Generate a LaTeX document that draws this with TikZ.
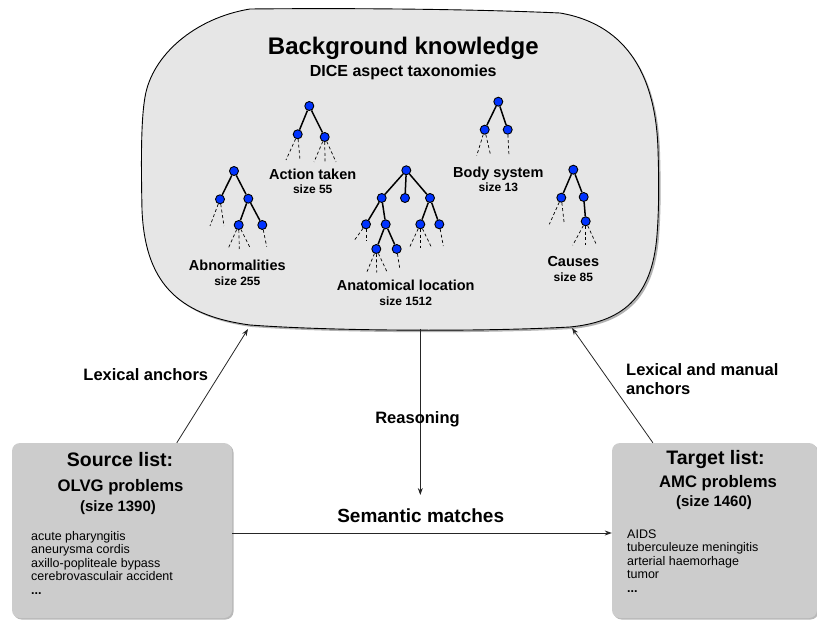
\documentclass[tikz,border=0pt]{standalone}
\usepackage{fontspec}
\setmainfont{Liberation Sans}
\usetikzlibrary{arrows.meta,shadows,positioning}

\definecolor{bkgray}{HTML}{E6E6E6}
\definecolor{boxgray}{HTML}{CCCCCC}
\definecolor{dotblue}{HTML}{0033FF}

\newcommand{\fsz}[1]{\fontsize{#1}{#1}\selectfont}
\newcommand{\stubs}[3]{\foreach \dx in {#2} \draw[stub] (#1) -- ++(\dx,#3);}

\tikzset{
  tn/.style={circle, draw, fill=dotblue, line width=0.9pt, minimum size=9pt, inner sep=0pt},
  branch/.style={line width=1.5pt},
  stub/.style={line width=0.7pt, dash pattern=on 3pt off 2.5pt},
  tname/.style={font=\bfseries\fsz{14.5}, inner sep=0pt, text height=9pt, text depth=3pt},
  tsize/.style={font=\bfseries\fsz{12}, inner sep=0pt, text height=9pt, text depth=3pt},
  listbox/.style={rectangle, rounded corners=8pt, fill=boxgray, minimum width=#1,
    minimum height=175pt, inner sep=0pt,
    drop shadow={shadow xshift=1.5pt, shadow yshift=-1.5pt, fill=black!55}},
  head/.style={font=\bfseries\fsz{19.5}, anchor=base, inner sep=0pt},
  sub/.style={font=\bfseries\fsz{16.7}, anchor=base, inner sep=0pt},
  subsize/.style={font=\bfseries\fsz{15}, anchor=base, inner sep=0pt},
  listtxt/.style={font={\fontsize{12.5}{13.5}\selectfont}, align=left, inner sep=0pt, anchor=north west},
  lbl/.style={font=\bfseries\fsz{16.5}, anchor=base, inner sep=0pt}
}

\begin{document}
\begin{tikzpicture}[x=1pt, y=-1pt, node distance=14.7pt,
    >={Stealth[length=7pt,width=5pt]},
    link/.style={->, line width=0.8pt, black!85}]
  \useasboundingbox (0,0) rectangle (817,620);

  % background knowledge cloud
  \path[fill=bkgray, draw, line width=0.9pt,
        drop shadow={shadow xshift=2pt, shadow yshift=-2pt, fill=black!60}]
    (250,9) .. controls (350,8) and (470,9) .. (560,13)
    .. controls (630,25) and (656,80) .. (658,150)
    .. controls (659,180) and (659,210) .. (657,235)
    .. controls (652,300) and (620,322) .. (570,327)
    .. controls (480,332) and (330,331) .. (250,325)
    .. controls (175,315) and (145,280) .. (142,210)
    .. controls (141,160) and (141,120) .. (145,97)
    .. controls (152,55) and (195,18) .. (250,9) -- cycle;
  \node[font=\bfseries\fsz{24}, anchor=base, inner sep=0pt] (bk) at (403.3,55) {Background knowledge};
  \node[font=\bfseries\fsz{16}, anchor=base, inner sep=0pt] (dice) at (403.3,76.7) {DICE aspect taxonomies};
  \coordinate (bk-left) at (248,329);
  \coordinate (bk-right) at (572,328);
  \coordinate (bk-bottom) at (420.3,329);

  % action taken
  \node[tn] (at0) at (309.3,106) {};
  \node[tn] (at1) at (297.7,134.3) {};
  \node[tn] (at2) at (324.7,137) {};
  \draw[branch] (at0) edge (at1) edge (at2);
  \stubs{at1}{-11.7,2.3}{25.7}
  \stubs{at2}{-10.7,0.3,11.3}{25}
  \node[tname] (atn) at (312.7,176.3) {Action taken};
  \node[tsize] (ats) [below of=atn] {size 55};

  % body system
  \node[tn] (bs0) at (498.3,101.7) {};
  \node[tn] (bs1) at (484.7,129.7) {};
  \node[tn] (bs2) at (507.7,129.7) {};
  \draw[branch] (bs0) edge (bs1) edge (bs2);
  \stubs{bs1}{-8,6}{26}
  \stubs{bs2}{1.3}{26}
  \node[tname] (bsn) at (498.3,174.3) {Body system};
  \node[tsize] (bss) [below of=bsn] {size 13};

  % abnormalities
  \node[tn] (ab0) at (234,171) {};
  \node[tn] (ab1) at (220,199.3) {};
  \node[tn] (ab2) at (248.3,198.7) {};
  \node[tn] (ab21) at (238.7,225) {};
  \node[tn] (ab22) at (262.3,225) {};
  \draw[branch] (ab0) edge (ab1) edge (ab2)
                (ab2) edge (ab21) edge (ab22);
  \stubs{ab1}{-10,4}{26.7}
  \stubs{ab21}{-10.7,0.6,12}{24}
  \stubs{ab22}{4.4}{21.7}
  \node[tname] (abn) at (237.3,267.7) {Abnormalities};
  \node[tsize] (abs) [below of=abn] {size 255};

  % anatomical location
  \node[tn] (an0) at (406.3,170.3) {};
  \node[tn] (an1) at (381.7,198) {};
  \node[tn] (an2) at (405,198) {};
  \node[tn] (an3) at (430,198) {};
  \node[tn] (an11) at (366,224.3) {};
  \node[tn] (an12) at (385.7,224.3) {};
  \node[tn] (an121) at (376.3,249) {};
  \node[tn] (an122) at (396.7,249) {};
  \node[tn] (an31) at (420.3,224.3) {};
  \node[tn] (an32) at (439.3,224.3) {};
  \draw[branch] (an0) edge (an1) edge (an2) edge (an3)
                (an1) edge (an11) edge (an12)
                (an12) edge (an121) edge (an122)
                (an3) edge (an31) edge (an32);
  \stubs{an11}{-12,0}{16.5}
  \stubs{an121}{-9.6,0.4,11}{23.5}
  \stubs{an122}{3.3}{21}
  \stubs{an31}{-11,0,11.4}{23.5}
  \stubs{an32}{4}{21.7}
  \node[tname] (ann) at (405.7,287.7) {Anatomical location};
  \node[tsize] (ans) [below of=ann] {size 1512};

  % causes
  \node[tn] (ca0) at (573.3,169.7) {};
  \node[tn] (ca1) at (561.3,197.7) {};
  \node[tn] (ca2) at (583.7,197) {};
  \node[tn] (ca21) at (585.7,221.3) {};
  \draw[branch] (ca0) edge (ca1) edge (ca2)
                (ca2) edge (ca21);
  \stubs{ca1}{-12,3}{26.6}
  \stubs{ca21}{-13,0,11}{24}
  \node[tname] (can) at (573.3,263.7) {Causes};
  \node[tsize] (cas) [below of=can] {size 85};

  % source and target lists
  \node[listbox=220pt] (src) at (122,530.5) {};
  \node[head] (srch) at (120,466.7) {Source list:};
  \node[sub] (srcs) at (120.5,491.5) {OLVG problems};
  \node[subsize] (srcn) at (118,511) {(size 1390)};
  \node[listtxt] (srcl) at (31,530.9) {acute pharyngitis\\aneurysma cordis\\axillo-popliteale bypass\\cerebrovasculair accident\\\textbf{...}};

  \node[listbox=205pt] (tgt) at (714.5,530.5) {};
  \node[head] (tgth) at (715.5,464) {Target list:};
  \node[sub] (tgts) at (718,487.5) {AMC problems};
  \node[subsize] (tgtn) at (714,506) {(size 1460)};
  \node[listtxt] (tgtl) at (627,529.3) {AIDS\\tuberculeuze meningitis\\arterial haemorhage\\tumor\\\textbf{...}};

  % connections
  \coordinate (sem-end) at (420.3,495);
  \draw[link] (src) -- (bk-left);
  \draw[link] (tgt) -- (bk-right);
  \draw[link] (bk-bottom) -- (sem-end);
  \draw[link] ([yshift=-2.5pt]src.east) -- ([yshift=-2.5pt]tgt.west);

  \node[lbl] (lex) at (145.8,380.7) {Lexical anchors};
  \node[lbl, anchor=north west, align=left, font=\bfseries\fontsize{16.5}{18.3}\selectfont] (lexman) at (626,363.7) {Lexical and manual\\anchors};
  \node[lbl] (reas) at (417.5,423.3) {Reasoning};
  \node[lbl, font=\bfseries\fsz{19}] (sem) at (420.7,522.7) {Semantic matches};
\end{tikzpicture}
\end{document}
